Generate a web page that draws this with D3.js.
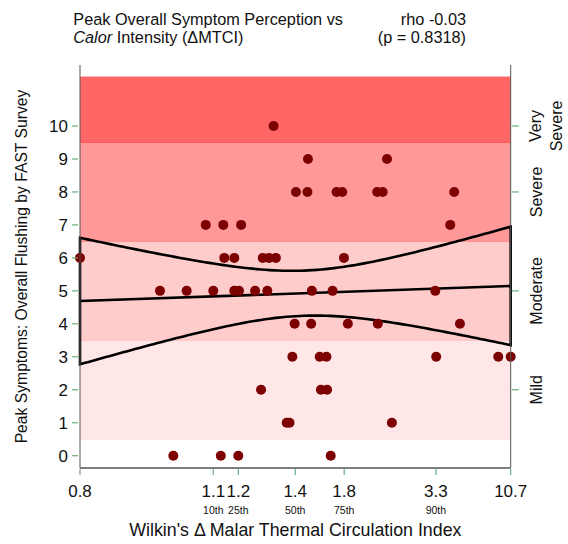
<!DOCTYPE html>
<html>
<head>
<meta charset="utf-8">
<script src="https://cdn.jsdelivr.net/npm/d3@7"></script>
<style>
  body { margin: 0; background: #fff; }
  text { font-family: "Liberation Sans", Arial, sans-serif; fill: #111; }
</style>
</head>
<body>
<svg id="chart" width="568" height="544"></svg>
<script>
// Peak overall flushing score (FAST survey) for each subject
const flushScore = [
  0, 0, 0, 0,
  1, 1, 1,
  2, 2, 2,
  3, 3, 3, 3, 3, 3,
  4, 4, 4, 4, 4,
  5, 5, 5, 5, 5, 5, 5, 5, 5, 5,
  6, 6, 6, 6, 6, 6, 6,
  7, 7, 7, 7,
  8, 8, 8, 8, 8, 8, 8,
  9, 9,
  10
];
// Wilkin's delta malar thermal circulation index for the same subjects
const deltaMTCI = [
  1.01, 1.13, 1.20, 1.69,
  1.37, 1.38, 2.58,
  1.28, 1.61, 1.66,
  1.39, 1.60, 1.655, 3.33, 9.47, 10.7,
  1.398, 1.53, 1.86, 2.35, 5.68,
  0.98, 1.04, 1.10, 1.184, 1.2025, 1.259, 1.302, 1.536, 1.705, 3.29,
  0.80, 1.144, 1.184, 1.286, 1.308, 1.332, 1.798,
  1.083, 1.14, 1.21, 4.72,
  1.406, 1.50, 1.738, 1.784, 2.34, 2.43, 5.11,
  1.504, 2.50,
  1.324
];

// x axis: min, percentiles, max of the index
const xTickValues = [0.8, 1.1, 1.2, 1.4, 1.8, 3.3, 10.7];
const xTickLabels = ["0.8", "1.1", "1.2", "1.4", "1.8", "3.3", "10.7"];
const xPercentileLabels = ["", "10th", "25th", "50th", "75th", "90th", ""];
// relative position of each tick along the transformed axis
const xTickSpots = [0, 0.3095, 0.3675, 0.4997, 0.6134, 0.8263, 1];

const yTickValues = [0, 1, 2, 3, 4, 5, 6, 7, 8, 9, 10];

// severity bands
const bandNames = [["Mild"], ["Moderate"], ["Severe"], ["Very", "Severe"]];
const bandLow = [0.5, 3.5, 6.5, 9.5];
const bandHigh = [3.5, 6.5, 9.5, 11.5];
const bandTick = [2, 5, 8, 10];
const bandColors = ["#ffe7e7", "#ffcccc", "#ff9999", "#ff6666"];
const bandEdgeColors = ["#ffdede", "#ffc2c2", "#ff8d8d", "#ff5a5a"];

// linear fit on the transformed axis (0 = min, 1 = max) and its 95% band
const fitEnds = [4.69, 5.15];
const ciCenter = 0.519;     // position of the narrowest point
const ciHalfMin = 0.685;    // half width at that point
const ciSpread = 11.92;     // growth of squared half width with distance

const titleLines = ["Peak Overall Symptom Perception vs", "Intensity (\u0394MTCI)"];
const statLines = ["rho -0.03", "(p = 0.8318)"];

const svg = d3.select("#chart");
const L = 80, R = 510.7, T = 65, B = 468;
const tickGreen = "#6aae7b";
const axisGrey = "#555";

const x = d3.scaleLinear()
  .domain(xTickValues)
  .range(xTickSpots.map(f => L + f * (R - L)));
const t = d3.scaleLinear().domain([0, 1]).range([L, R]);
const y = d3.scaleLinear().domain([-0.373, 11.85]).range([B, T]);

// severity bands
const bands = svg.append("g");
bands.selectAll("rect")
  .data(bandLow)
  .join("rect")
  .attr("x", L)
  .attr("width", R - L)
  .attr("y", (d, i) => y(bandHigh[i]))
  .attr("height", (d, i) => y(d) - y(bandHigh[i]))
  .attr("fill", (d, i) => bandColors[i]);
bands.selectAll("line")
  .data(bandLow)
  .join("line")
  .attr("x1", L).attr("x2", R)
  .attr("y1", d => y(d)).attr("y2", d => y(d))
  .attr("stroke", (d, i) => bandEdgeColors[i])
  .attr("stroke-width", 1);

// fit line and confidence band
const samples = d3.range(0, 1.0001, 0.01);
const fit = s => fitEnds[0] + (fitEnds[1] - fitEnds[0]) * s;
const half = s => Math.sqrt(ciHalfMin * ciHalfMin + ciSpread * (s - ciCenter) * (s - ciCenter));
const line = d3.line().x(d => t(d[0])).y(d => y(d[1])).curve(d3.curveLinear);

const bandPts = samples.map(s => [s, fit(s) + half(s)])
  .concat(samples.slice().reverse().map(s => [s, fit(s) - half(s)]));
svg.append("path")
  .attr("d", line(bandPts) + "Z")
  .attr("fill", "none")
  .attr("stroke", "#000")
  .attr("stroke-width", 2.6)
  .attr("stroke-linejoin", "miter");
svg.append("path")
  .attr("d", line([[0, fit(0)], [1, fit(1)]]))
  .attr("fill", "none")
  .attr("stroke", "#000")
  .attr("stroke-width", 2.6);

// subjects
svg.append("g").selectAll("circle")
  .data(flushScore)
  .join("circle")
  .attr("cx", (d, i) => x(deltaMTCI[i]))
  .attr("cy", d => y(d))
  .attr("r", 5)
  .attr("fill", "#7d0000");

// axis lines
svg.append("line").attr("x1", L).attr("x2", L).attr("y1", T).attr("y2", B)
  .attr("stroke", axisGrey).attr("stroke-width", 1);
svg.append("line").attr("x1", R).attr("x2", R).attr("y1", T).attr("y2", B)
  .attr("stroke", axisGrey).attr("stroke-width", 1);
svg.append("line").attr("x1", L).attr("x2", R).attr("y1", B).attr("y2", B)
  .attr("stroke", axisGrey).attr("stroke-width", 1.5);

// left axis
const yl = svg.append("g");
yl.selectAll("line").data(yTickValues).join("line")
  .attr("x1", 72).attr("x2", 78)
  .attr("y1", d => y(d)).attr("y2", d => y(d))
  .attr("stroke", tickGreen).attr("stroke-width", 1.2);
yl.selectAll("text").data(yTickValues).join("text")
  .attr("x", 68).attr("y", d => y(d)).attr("dy", "0.36em")
  .attr("text-anchor", "end").attr("font-size", 17)
  .text(d => d);

// bottom axis
const xb = svg.append("g");
xb.selectAll("line").data(xTickValues).join("line")
  .attr("x1", d => x(d)).attr("x2", d => x(d))
  .attr("y1", B + 1).attr("y2", B + 7)
  .attr("stroke", tickGreen).attr("stroke-width", 1.2);
xb.selectAll("text.v").data(xTickValues).join("text")
  .attr("class", "v")
  .attr("x", d => x(d)).attr("y", 497)
  .attr("text-anchor", "middle").attr("font-size", 17)
  .text((d, i) => xTickLabels[i]);
xb.selectAll("text.p").data(xTickValues).join("text")
  .attr("class", "p")
  .attr("x", d => x(d)).attr("y", 514)
  .attr("text-anchor", "middle").attr("font-size", 10.5)
  .text((d, i) => xPercentileLabels[i]);

// right axis: severity names
const yr = svg.append("g");
yr.selectAll("line").data(bandTick).join("line")
  .attr("x1", R + 1).attr("x2", R + 8)
  .attr("y1", d => y(d)).attr("y2", d => y(d))
  .attr("stroke", tickGreen).attr("stroke-width", 1.2);
bandTick.forEach((v, i) => {
  const lines = bandNames[i];
  const bx = lines.length > 1 ? 541 : 542;
  const txt = svg.append("text")
    .attr("transform", `translate(${bx},${y(v)}) rotate(-90)`)
    .attr("text-anchor", "middle")
    .attr("font-size", 16);
  lines.forEach((s, j) => {
    txt.append("tspan").attr("x", 0).attr("dy", j === 0 ? 0 : "1.3em").text(s);
  });
});

// axis titles
svg.append("text")
  .attr("x", (L + R) / 2).attr("y", 536)
  .attr("text-anchor", "middle").attr("font-size", 17.8)
  .text("Wilkin's \u0394 Malar Thermal Circulation Index");
svg.append("text")
  .attr("transform", `translate(27,${(T + B) / 2}) rotate(-90)`)
  .attr("text-anchor", "middle").attr("font-size", 15.7)
  .text("Peak Symptoms: Overall Flushing by FAST Survey");

// chart title and correlation
const title = svg.append("g").attr("font-size", 16.3);
title.append("text").attr("x", 73.3).attr("y", 25).text(titleLines[0]);
const t2 = title.append("text").attr("x", 73.3).attr("y", 43.3);
t2.append("tspan").attr("font-style", "italic").text("Calor");
t2.append("tspan").text(" " + titleLines[1]);
statLines.forEach((s, i) => {
  title.append("text").attr("x", 466).attr("y", 25 + i * 18.3)
    .attr("text-anchor", "end").text(s);
});
</script>
</body>
</html>
